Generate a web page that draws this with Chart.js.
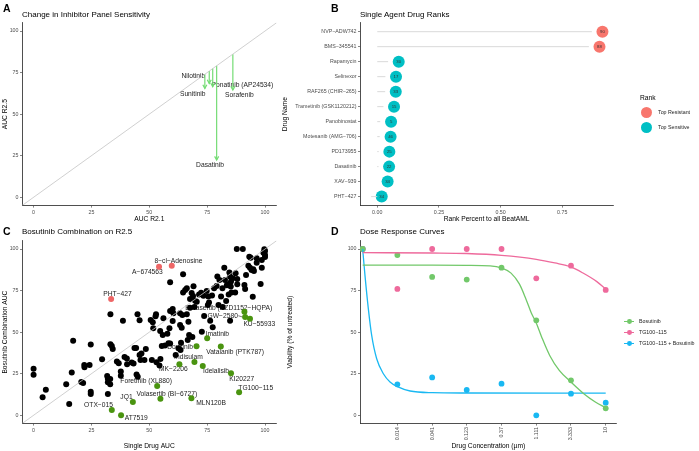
<!DOCTYPE html>
<html>
<head>
<meta charset="utf-8">
<script src="https://cdn.jsdelivr.net/npm/chart.js@4.4.1/dist/chart.umd.min.js"></script>
<style>
  body { margin: 0; background: #fff; }
  #fig { position: relative; width: 699px; height: 451px; overflow: hidden; font-family: "Liberation Sans", Arial, sans-serif; color: #000; }
  #fig canvas { position: absolute; }
  .tag { position: absolute; font-size: 10.5px; font-weight: bold; line-height: 1; }
  .ttl { position: absolute; font-size: 8px; line-height: 1; white-space: nowrap; }
  .lg { position: absolute; white-space: nowrap; line-height: 1; color: #222; }
  .dot { position: absolute; border-radius: 50%; }
  .key { position: absolute; height: 1.3px; }
</style>
</head>
<body>
<div id="fig">
  <canvas id="chartA" width="330" height="224" style="left:0;top:0"></canvas>
  <canvas id="chartB" width="419" height="224" style="left:280px;top:0"></canvas>
  <canvas id="chartC" width="330" height="223" style="left:0;top:228px"></canvas>
  <canvas id="chartD" width="419" height="223" style="left:280px;top:228px"></canvas>

  <div class="tag" style="left:3px;top:3px">A</div>
  <div class="tag" style="left:331px;top:3px">B</div>
  <div class="tag" style="left:3px;top:226px">C</div>
  <div class="tag" style="left:331px;top:226px">D</div>

  <div class="ttl" style="left:22px;top:11px">Change in Inhibitor Panel Sensitivity</div>
  <div class="ttl" style="left:360px;top:11px">Single Agent Drug Ranks</div>
  <div class="ttl" style="left:22px;top:228px">Bosutinib Combination on R2.5</div>
  <div class="ttl" style="left:360px;top:228px">Dose Response Curves</div>

  <!-- legend B -->
  <div class="lg" style="left:640px;top:95px;font-size:6.7px;color:#000">Rank</div>
  <div class="dot" style="left:641px;top:106.5px;width:11px;height:11px;background:#F8766D"></div>
  <div class="lg" style="left:658px;top:109.5px;font-size:5.3px">Top Resistant</div>
  <div class="dot" style="left:641px;top:121.5px;width:11px;height:11px;background:#00BFC4"></div>
  <div class="lg" style="left:658px;top:124.5px;font-size:5.3px">Top Sensitive</div>

  <!-- legend D -->
  <div class="key" style="left:624px;top:321px;width:10px;background:#72C86A"></div>
  <div class="dot" style="left:627.3px;top:319.3px;width:4.8px;height:4.8px;background:#72C86A"></div>
  <div class="lg" style="left:639px;top:319px;font-size:5.3px">Bosutinib</div>
  <div class="key" style="left:624px;top:332px;width:10px;background:#EE6A9C"></div>
  <div class="dot" style="left:627.3px;top:330.3px;width:4.8px;height:4.8px;background:#EE6A9C"></div>
  <div class="lg" style="left:639px;top:330px;font-size:5.3px">TG100&#8722;115</div>
  <div class="key" style="left:624px;top:343px;width:10px;background:#19B8F2"></div>
  <div class="dot" style="left:627.3px;top:341.3px;width:4.8px;height:4.8px;background:#19B8F2"></div>
  <div class="lg" style="left:639px;top:341px;font-size:5.3px">TG100&#8722;115 + Bosutinib</div>
</div>

<script>
// ---- panel A: change in AUC between R2.1 and R2.5
const shiftDrugs = ["Sunitinib", "Nilotinib", "Ponatinib (AP24534)", "Dasatinib", "Sorafenib"];
const aucR21 = [74.0, 75.9, 77.4, 79.1, 86.1];
const aucR25 = [65.5, 68.5, 66.5, 22.4, 64.5];

// ---- panel B: single agent ranks
const rankDrugs = ["NVP\u2212ADW742", "BMS\u2212345541", "Rapamycin", "Selinexor", "RAF265 (CHIR\u2212265)",
  "Trametinib (GSK1120212)", "Panobinostat", "Motesanib (AMG\u2212706)", "PD173955", "Dasatinib", "XAV\u2212939", "PHT\u2212427"];
const rankPercent = [0.913, 0.901, 0.087, 0.076, 0.075, 0.068, 0.056, 0.054, 0.049, 0.048, 0.042, 0.018];
const rankSegmentEnd = [0.870, 0.858, 0.044, 0.033, 0.032, 0.025, 0.012, 0.010, 0.006, 0.005, -0.001, -0.025];
const rankNumber = [90, 88, 30, 17, 33, 15, 5, 46, 25, 22, 34, 34];
const rankGroup = ["Top Resistant", "Top Resistant", "Top Sensitive", "Top Sensitive", "Top Sensitive", "Top Sensitive",
  "Top Sensitive", "Top Sensitive", "Top Sensitive", "Top Sensitive", "Top Sensitive", "Top Sensitive"];

// ---- panel C: bosutinib combination
const otherSingle = [0, 0, 3.9, 5.3, 14.1, 15.4, 16.5, 17.1, 20.6, 21.4, 21.9, 22, 24.2, 24.7, 24.7, 24.7, 29.6, 31.8, 32.1, 32.1,
  32.1, 33.1, 33.1, 33.2, 33.2, 33.8, 34.2, 36, 36.8, 37.7, 37.7, 38.6, 39.3, 40.3, 40.4, 42.4, 43.2, 43.6, 44.9, 44.3,
  44.5, 45, 45.8, 45.8, 46.2, 47.9, 46.6, 48.5, 50.6, 51.1, 51.5, 51.7, 52.7, 52.9, 53.1, 54.4, 54.7, 54.8, 55.4, 55.8,
  56.1, 56.8, 57.8, 58.3, 58.7, 59, 59, 59, 60.1, 60.1, 60.4, 61.4, 62.6, 63.3, 63.3, 63.5, 63.7, 64, 64.3, 64.6,
  64.6, 65.5, 66.2, 66.2, 66.6, 66.9, 67.2, 67.6, 67.6, 68.3, 68.6, 68.9, 69.1, 69.5, 69.8, 70.5, 71.5, 72.4, 72.7, 73.4,
  73.7, 74.8, 75.3, 75.5, 75.8, 76.3, 77.1, 77.4, 78, 79.1, 79.4, 79.9, 80.3, 81, 81.6, 81.7, 82.4, 82.7, 83.2, 83.5,
  83.9, 84.3, 84.6, 84.9, 85.2, 84.9, 85.3, 85.5, 86, 87.1, 87.3, 87.8, 88, 88, 90.4, 91.1, 91.8, 91.4, 92.8, 93.2,
  93.8, 93.5, 94.2, 94.9, 95.2, 94.7, 96.4, 96.4, 98.1, 98.6, 98.6, 99.3, 99.7, 100, 100, 100];
const otherCombo = [28, 24.4, 10.8, 15.4, 18.6, 6.8, 25.8, 44.9, 20, 19.4, 30.3, 28.9, 30.3, 42.5, 14.2, 12.8, 33.7, 23.6, 22, 19.8,
  12.8, 21.8, 18.6, 60.7, 42.7, 41.7, 39.9, 32.3, 31.3, 26.3, 23.8, 56.9, 35.1, 34.1, 30.7, 31.7, 31.1, 40.5, 60.7, 40.5,
  24.6, 23.2, 57.1, 36.3, 33.3, 33.3, 37.1, 39.9, 57.3, 33.3, 55.9, 52.3, 59.5, 60.7, 31.9, 29.9, 50.7, 33.9, 41.7, 48.3,
  58.3, 41.9, 49.1, 43.3, 52.3, 62.7, 80, 43.1, 56.7, 63.9, 61.3, 36.3, 40.3, 54.3, 61.3, 39.3, 43.7, 52.7, 60.3, 84.8,
  73.9, 75.4, 76.4, 60.7, 45.3, 56.3, 48.3, 69.9, 64.7, 73.5, 47.1, 71.7, 77.6, 65.1, 68.9, 68.3, 72.7, 73.7, 50.3, 71.9,
  59.7, 74.7, 66.3, 71.5, 67.9, 56.9, 72.1, 52.9, 76.4, 77.8, 83.4, 66.3, 81.4, 71.5, 76.4, 65.1, 88.8, 81.4, 68.7, 78.2,
  78.8, 72.7, 85.8, 83.4, 77.4, 56.9, 80.4, 73.9, 82.4, 73.9, 85.4, 100, 78.8, 82, 100, 78.4, 84.4, 76, 90, 95.4,
  94.8, 88.8, 87.4, 87.8, 86.8, 71.3, 94.4, 91.8, 78.9, 93.4, 88.8, 97.8, 99.8, 96.4, 95.2, 98.8];
const sensDrugs = ["OTX\u2212015", "AT7519", "JQ1", "Volasertib (BI\u22126727)", "Foretinib (XL880)", "MLN120B", "TG100\u2212115",
  "KI20227", "Idelalisib", "MK\u22122206", "Indisulam", "Vatalanib (PTK787)", "Dovitinib", "Imatinib", "KU\u221255933",
  "GW\u22122580", "Barasertib (AZD1152\u2212HQPA)"];
const sensSingle = [33.8, 37.8, 42.9, 54.8, 53.4, 68.2, 88.8, 85.3, 73.1, 63, 69.5, 80.9, 70.4, 75, 93.5, 91.4, 91.1];
const sensCombo = [3.2, 0, 8, 10, 17.6, 10.2, 13.8, 25.3, 29.7, 30.7, 32.1, 41.3, 41.5, 46.3, 58.1, 59.1, 62.3];
const resDrugs = ["PHT\u2212427", "A\u2212674563", "8\u2212cl\u2212Adenosine"];
const resSingle = [33.5, 54.2, 59.7];
const resCombo = [69.9, 89.4, 90];

// ---- panel D: dose response
const doses = [0.00457, 0.0137, 0.0412, 0.123, 0.370, 1.111, 3.333, 10];
const doseLabels = ["0.014", "0.041", "0.123", "0.37", "1.111", "3.333", "10"];
const bosutinibViab = [100, 96.4, 83.2, 81.6, 88.8, 57.1, 21, 4.2];
const tg100Viab = [100, 76, 100, 100, 100, 82.4, 90, 75.4];
const comboViab = [100, 18.6, 22.8, 15.2, 19, 0, 13, 7.6];
// fitted curves
const bosutinibFitDose = [0.00457, 0.0137, 0.0412, 0.123, 0.258, 0.37, 0.5, 0.65, 0.8, 0.95, 1.111, 1.32, 1.7, 2.3, 3.333, 5, 7.2, 10];
const bosutinibFit = [90.3, 90.3, 90.3, 90.2, 89.9, 88.6, 85.5, 79, 70, 61.5, 55.5, 47, 36, 27, 20, 13, 8, 4.5];
const tg100FitDose = [0.00457, 0.0412, 0.123, 0.37, 1.111, 2.0, 3.333, 4.94, 7.55, 10];
const tg100Fit = [97.8, 97.6, 97.3, 96.2, 93.8, 91.6, 89.2, 85.4, 80.4, 76];
const comboFitDose = [0.00457, 0.00492, 0.00547, 0.00608, 0.00712, 0.0088, 0.01086, 0.0137, 0.0205, 0.0412, 0.123, 10];
const comboFit = [100, 84, 64, 48, 34, 25, 20, 17.2, 14.6, 13.6, 13.4, 13.3];

// ------------------------------------------------------------------
Chart.defaults.font.family = '"Liberation Sans", Arial, sans-serif';
Chart.defaults.animation = false;
Chart.defaults.events = [];
Chart.defaults.plugins.legend.display = false;
Chart.defaults.plugins.tooltip.enabled = false;

const tickColor = "#4d4d4d";

const makeScale = (min, max, tickValues, title, extra = {}) => ({
  type: "linear",
  min,
  max,
  afterBuildTicks: (ax) => { ax.ticks = tickValues.map((v) => ({ value: v })); },
  ticks: { color: tickColor, font: { size: 5.3 }, padding: 1.5, autoSkip: false, maxRotation: 0 },
  grid: { display: true, drawOnChartArea: false, tickLength: 2, color: "#333", lineWidth: 0.6 },
  border: { display: true, color: "#222", width: 0.8 },
  title: { display: true, text: title, color: "#000", font: { size: 6.7 }, padding: 0 },
  ...extra,
});

// text labels placed next to data points (pixel nudges like ggrepel)
const textLabels = (id, items, size) => ({
  id,
  beforeDatasetsDraw(chart) {
    const { ctx, scales } = chart;
    ctx.save();
    ctx.font = `${size}px "Liberation Sans", Arial, sans-serif`;
    ctx.fillStyle = "#222";
    ctx.textAlign = "center";
    ctx.textBaseline = "middle";
    items.forEach((it) => {
      const px = scales.x.getPixelForValue(it.x);
      const py = scales.y.getPixelForValue(it.y);
      ctx.fillText(it.text, px + it.dx, py + it.dy);
      if (it.leader) {
        const w = ctx.measureText(it.text).width;
        ctx.strokeStyle = "#222";
        ctx.lineWidth = 0.6;
        ctx.beginPath();
        ctx.moveTo(px + it.dx + w / 2 + 0.5, py + it.dy);
        ctx.lineTo(px - 2.5, py);
        ctx.stroke();
      }
    });
    ctx.restore();
  },
});

// open arrow heads at the end of datasets flagged "arrow"
const arrowHeads = {
  id: "arrowHeads",
  afterDatasetsDraw(chart) {
    const { ctx } = chart;
    chart.data.datasets.forEach((ds, i) => {
      if (!ds.arrow) return;
      const pts = chart.getDatasetMeta(i).data;
      const a = pts[0], b = pts[pts.length - 1];
      const ang = Math.atan2(b.y - a.y, b.x - a.x);
      const len = 4.2, spread = 0.5;
      ctx.save();
      ctx.strokeStyle = ds.borderColor;
      ctx.lineWidth = 1.2;
      ctx.beginPath();
      ctx.moveTo(b.x - len * Math.cos(ang - spread), b.y - len * Math.sin(ang - spread));
      ctx.lineTo(b.x, b.y);
      ctx.lineTo(b.x - len * Math.cos(ang + spread), b.y - len * Math.sin(ang + spread));
      ctx.stroke();
      ctx.restore();
    });
  },
};

// ---------------- Panel A ----------------
const setupPanelA = () => {
  const arrowColor = "#74dc74";
  const nudge = {
    "Sunitinib": [-12.1, 5.6], "Nilotinib": [-15.9, -7.7], "Ponatinib (AP24534)": [29.7, -1.4],
    "Dasatinib": [-6.6, 5.6], "Sorafenib": [6.5, 5],
  };
  const datasets = [{
    data: [{ x: -5, y: -5 }, { x: 105, y: 105 }],
    showLine: true, borderColor: "#c4c4c4", borderWidth: 0.8, pointRadius: 0,
  }];
  shiftDrugs.forEach((name, i) => {
    datasets.push({
      label: name,
      data: [{ x: aucR21[i], y: aucR21[i] }, { x: aucR21[i], y: aucR25[i] }],
      showLine: true, borderColor: arrowColor, borderWidth: 1.2, pointRadius: 0, arrow: true,
    });
  });
  const labels = shiftDrugs.map((name, i) => ({
    text: name, x: aucR21[i], y: aucR25[i], dx: nudge[name][0], dy: nudge[name][1],
  }));
  return new Chart(document.getElementById("chartA"), {
    type: "scatter",
    data: { datasets },
    options: {
      responsive: false,
      layout: { autoPadding: false, padding: { top: 22.7, right: 53.4, left: 0, bottom: 0 } },
      scales: {
        x: makeScale(-5, 105, [0, 25, 50, 75, 100], "AUC R2.1", {
          afterFit: (s) => { s.height = 18.4; },
          title: { display: true, text: "AUC R2.1", color: "#000", font: { size: 6.7 }, padding: { bottom: 1.1 } },
        }),
        y: makeScale(-5, 105, [0, 25, 50, 75, 100], "AUC R2.5", {
          afterFit: (s) => { s.width = 22; },
          title: { display: true, text: "AUC R2.5", color: "#000", font: { size: 6.7 }, padding: { top: 1 } },
        }),
      },
    },
    plugins: [textLabels("labelsA", labels, 6.7), arrowHeads],
  });
};

// ---------------- Panel B ----------------
const setupPanelB = () => {
  const groupColor = { "Top Resistant": "#F8766D", "Top Sensitive": "#00BFC4" };
  const datasets = rankDrugs.map((name, i) => ({
    data: [{ x: 0, y: i }, { x: rankSegmentEnd[i], y: i }],
    showLine: true, borderColor: "#d9d9d9", borderWidth: 1, pointRadius: 0,
  }));
  datasets.push({
    label: "Rank",
    data: rankPercent.map((v, i) => ({ x: v, y: i })),
    backgroundColor: rankGroup.map((g) => groupColor[g]),
    pointRadius: 6, borderWidth: 0,
  });
  const numberPlugin = {
    id: "rankNumbers",
    afterDatasetsDraw(chart) {
      const { ctx } = chart;
      const meta = chart.getDatasetMeta(chart.data.datasets.length - 1);
      ctx.save();
      ctx.font = '4.3px "Liberation Sans", Arial, sans-serif';
      ctx.fillStyle = "#333";
      ctx.textAlign = "center";
      ctx.textBaseline = "middle";
      meta.data.forEach((pt, i) => ctx.fillText(String(rankNumber[i]), pt.x, pt.y + 0.3));
      ctx.restore();
    },
  };
  return new Chart(document.getElementById("chartB"), {
    type: "scatter",
    data: { datasets },
    options: {
      responsive: false,
      layout: { autoPadding: false, padding: { top: 22.7, right: 85.7, left: 0, bottom: 0 } },
      scales: {
        x: makeScale(-0.07, 0.957, [0, 0.25, 0.5, 0.75], "Rank Percent to all BeatAML", {
          afterFit: (s) => { s.height = 18.4; },
          ticks: {
            color: tickColor, font: { size: 5.3 }, padding: 1.5, autoSkip: false, maxRotation: 0,
            callback: (v) => v.toFixed(2),
          },
          title: { display: true, text: "Rank Percent to all BeatAML", color: "#000", font: { size: 6.7 }, padding: { bottom: 1.1 } },
        }),
        y: makeScale(-0.6, 11.6, rankDrugs.map((d, i) => i), "Drug Name", {
          reverse: true,
          afterFit: (s) => { s.width = 80; },
          ticks: {
            color: tickColor, font: { size: 5.3 }, padding: 1.5, autoSkip: false,
            callback: (v) => rankDrugs[v],
          },
          title: { display: true, text: "Drug Name", color: "#000", font: { size: 6.7 }, padding: { top: 1.2 } },
        }),
      },
    },
    plugins: [numberPlugin],
  });
};

// ---------------- Panel C ----------------
const setupPanelC = () => {
  const nudge = {
    "OTX\u2212015": [-13.3, -4.7], "AT7519": [15.1, 2.4], "JQ1": [-6.4, -5.3],
    "Volasertib (BI\u22126727)": [6.4, -5], "Foretinib (XL880)": [-11, -5], "MLN120B": [19.7, 4.4],
    "TG100\u2212115": [16.7, -4.1], "KI20227": [10.7, 5.5], "Idelalisib": [13.3, 4.8],
    "MK\u22122206": [-6, 5.1], "Indisulam": [-6, -5.2], "Vatalanib (PTK787)": [14.3, 5.1],
    "Dovitinib": [-16.4, 1], "Imatinib": [10.2, -4.6], "KU\u221255933": [9.3, 5.3],
    "GW\u22122580": [-22.4, -1.3], "Barasertib (AZD1152\u2212HQPA)": [-15.7, -4],
    "PHT\u2212427": [6.4, -4.7], "A\u2212674563": [-11.6, 5.1], "8\u2212cl\u2212Adenosine": [6.7, -4.6],
  };
  const labels = [];
  sensDrugs.forEach((name, i) => labels.push({
    text: name, x: sensSingle[i], y: sensCombo[i], dx: nudge[name][0], dy: nudge[name][1], leader: name === "GW\u22122580",
  }));
  resDrugs.forEach((name, i) => labels.push({
    text: name, x: resSingle[i], y: resCombo[i], dx: nudge[name][0], dy: nudge[name][1],
  }));
  return new Chart(document.getElementById("chartC"), {
    type: "scatter",
    data: {
      datasets: [
        {
          data: [{ x: -5, y: -5 }, { x: 105, y: 105 }],
          showLine: true, borderColor: "#c4c4c4", borderWidth: 0.8, pointRadius: 0,
        },
        {
          label: "Other",
          data: otherSingle.map((v, i) => ({ x: v, y: otherCombo[i] })),
          backgroundColor: "#000", pointRadius: 3, borderWidth: 0,
        },
        {
          label: "Sensitised",
          data: sensSingle.map((v, i) => ({ x: v, y: sensCombo[i] })),
          backgroundColor: "#4a9410", pointRadius: 3, borderWidth: 0,
        },
        {
          label: "Resistant",
          data: resSingle.map((v, i) => ({ x: v, y: resCombo[i] })),
          backgroundColor: "#ee6666", pointRadius: 3, borderWidth: 0,
        },
      ],
    },
    options: {
      responsive: false,
      layout: { autoPadding: false, padding: { top: 12.7, right: 53.4, left: 0, bottom: 0 } },
      scales: {
        x: makeScale(-5, 105, [0, 25, 50, 75, 100], "Single Drug AUC", {
          afterFit: (s) => { s.height = 27.4; },
          title: { display: true, text: "Single Drug AUC", color: "#000", font: { size: 6.7 }, padding: { bottom: 1.1 } },
        }),
        y: makeScale(-5, 105, [0, 25, 50, 75, 100], "Bosutinib Combination AUC", {
          afterFit: (s) => { s.width = 22; },
          title: { display: true, text: "Bosutinib Combination AUC", color: "#000", font: { size: 6.7 }, padding: { top: 1.2 } },
        }),
      },
    },
    plugins: [textLabels("labelsC", labels, 6.7)],
  });
};

// ---------------- Panel D ----------------
const setupPanelD = () => {
  const colors = { bos: "#72C86A", tg: "#EE6A9C", combo: "#19B8F2" };
  const curve = (xs, ys, color) => ({
    data: xs.map((v, i) => ({ x: v, y: ys[i] })),
    showLine: true, borderColor: color, borderWidth: 1.3, pointRadius: 0, cubicInterpolationMode: "monotone",
  });
  const points = (label, ys, color) => ({
    label, data: doses.map((v, i) => ({ x: v, y: ys[i] })),
    backgroundColor: color, pointRadius: 2.9, borderWidth: 0,
  });
  return new Chart(document.getElementById("chartD"), {
    type: "scatter",
    data: {
      datasets: [
        curve(bosutinibFitDose, bosutinibFit, colors.bos),
        curve(tg100FitDose, tg100Fit, colors.tg),
        curve(comboFitDose, comboFit, colors.combo),
        points("Bosutinib", bosutinibViab, colors.bos),
        points("TG100\u2212115", tg100Viab, colors.tg),
        points("TG100\u2212115 + Bosutinib", comboViab, colors.combo),
      ],
    },
    options: {
      responsive: false,
      layout: { autoPadding: false, padding: { top: 12.7, right: 82.3, left: 0, bottom: 0 } },
      scales: {
        x: {
          type: "logarithmic",
          min: 0.0042,
          max: 14.16,
          afterBuildTicks: (ax) => { ax.ticks = doses.slice(1).map((v) => ({ value: v })); },
          afterFit: (s) => { s.height = 27.4; },
          ticks: {
            color: tickColor, font: { size: 5.3 }, padding: 1.5, autoSkip: false,
            minRotation: 90, maxRotation: 90,
            callback: (v, i) => doseLabels[i],
          },
          grid: { display: true, drawOnChartArea: false, tickLength: 2, color: "#333", lineWidth: 0.6 },
          border: { display: true, color: "#222", width: 0.8 },
          title: { display: true, text: "Drug Concentration (\u00b5m)", color: "#000", font: { size: 6.7 }, padding: { bottom: 1.1 } },
        },
        y: makeScale(-5, 105, [0, 25, 50, 75, 100], "Viability (% of untreated)", {
          afterFit: (s) => { s.width = 80; },
          title: { display: true, text: "Viability (% of untreated)", color: "#000", font: { size: 6.7 }, padding: { top: 6 } },
        }),
      },
    },
  });
};

setupPanelA();
setupPanelB();
setupPanelC();
setupPanelD();
</script>
</body>
</html>
